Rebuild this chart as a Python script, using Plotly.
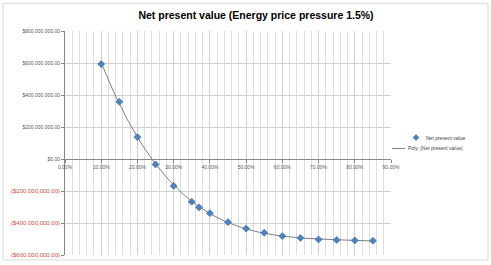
import numpy as np
import plotly.graph_objects as go

# Data
rates = [0.10, 0.15, 0.20, 0.25, 0.30, 0.35, 0.37, 0.40, 0.45, 0.50,
         0.55, 0.60, 0.65, 0.70, 0.75, 0.80, 0.85]
npv = [593e6, 358e6, 137e6, -34e6, -168e6, -267e6, -302e6, -339e6, -395e6, -435e6,
       -461e6, -482e6, -494e6, -503e6, -506e6, -509e6, -511e6]

y_ticks = [800e6, 600e6, 400e6, 200e6, 0, -200e6, -400e6, -600e6]
series_names = ["Net present value", "Poly. (Net present value)"]


def money(v):
    if v < 0:
        return '<span style="fill:#c9504a;font-size:6px">(${:,.2f})</span>'.format(-v)
    return '${:,.2f}'.format(v)


y_text = [money(v) for v in y_ticks]

# Polynomial trendline (Excel "Poly.")
coef = np.polyfit(rates, npv, 4)
tx = np.linspace(min(rates), max(rates), 200)
ty = np.polyval(coef, tx)

MARKER_COLOR = "#4f81bd"
LINE_COLOR = "#7f7f7f"

fig = go.Figure()
fig.add_trace(go.Scatter(
    x=tx, y=ty, mode="lines", name=series_names[1],
    line=dict(color=LINE_COLOR, width=1), showlegend=False,
))
fig.add_trace(go.Scatter(
    x=rates, y=npv, mode="markers", name=series_names[0],
    marker=dict(symbol="diamond", size=5.5, color=MARKER_COLOR,
                line=dict(width=0.5, color="#3a6599")),
    showlegend=False,
))

L, R, T, B = 65, 100, 31, 7
W, H = 491, 265
pw, ph = W - L - R, H - T - B


def px(x):
    return (x - L) / pw


def py(y):
    return (H - B - y) / ph


shapes = [
    dict(type="rect", xref="paper", yref="paper",
         x0=px(3), x1=px(488), y0=py(263), y1=py(3),
         line=dict(color="#d9d9d9", width=1), fillcolor="rgba(0,0,0,0)", layer="below"),
    # legend: diamond symbol
    dict(type="path", xref="paper", yref="paper", xsizemode="pixel", ysizemode="pixel",
         xanchor=px(416), yanchor=py(139),
         path="M 0 3 L 3 0 L 0 -3 L -3 0 Z",
         fillcolor=MARKER_COLOR, line=dict(color="#3a6599", width=0.5)),
    # legend: trendline sample
    dict(type="line", xref="paper", yref="paper",
         x0=px(392), x1=px(405), y0=py(150), y1=py(150),
         line=dict(color=LINE_COLOR, width=1)),
]

annotations = [
    dict(text=series_names[0], xref="paper", yref="paper", x=px(424), y=py(139),
         xanchor="left", yanchor="middle", showarrow=False,
         font=dict(size=5, color="#404040")),
    dict(text=series_names[1], xref="paper", yref="paper", x=px(406), y=py(150),
         xanchor="left", yanchor="middle", showarrow=False,
         font=dict(size=5, color="#404040")),
]

fig.update_layout(
    width=W, height=H,
    margin=dict(l=L, r=R, t=T, b=B, pad=0),
    paper_bgcolor="white", plot_bgcolor="white",
    font=dict(family="Liberation Sans, Arial, sans-serif", size=5, color="#595959"),
    title=dict(text="<b>Net present value (Energy price pressure 1.5%)</b>",
               x=256 / W, xanchor="center", y=1 - 15 / H, yanchor="middle",
               font=dict(size=10.5, color="#000000", family="Liberation Sans, Arial, sans-serif")),
    showlegend=False,
    xaxis=dict(
        range=[0, 0.9], tickmode="linear", tick0=0, dtick=0.1, tickformat=".2%",
        showgrid=True, gridcolor="#d0d0d0", gridwidth=1,
        minor=dict(dtick=0.02, showgrid=True, gridcolor="#dedede", gridwidth=0.6),
        anchor="free", position=600 / 1400,
        showline=True, linecolor="#868686", linewidth=1,
        ticks="outside", ticklen=3, tickcolor="#868686",
        zeroline=False, tickfont=dict(size=5, color="#595959"),
    ),
    yaxis=dict(
        range=[-600e6, 800e6], tickvals=y_ticks, ticktext=y_text,
        showgrid=True, gridcolor="#d0d0d0", gridwidth=1,
        showline=True, linecolor="#868686", linewidth=1,
        ticks="outside", ticklen=3, tickcolor="#868686",
        zeroline=False, tickfont=dict(size=5, color="#595959"),
    ),
    shapes=shapes,
    annotations=annotations,
)

fig.write_html("out.html", config={"displayModeBar": False},
               post_script="document.body.style.margin='0';document.body.style.overflow='hidden';")
